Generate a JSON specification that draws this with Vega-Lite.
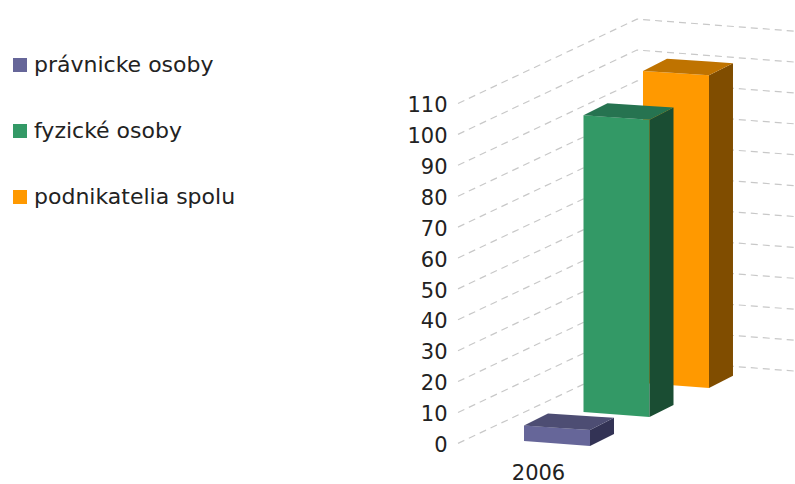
{
  "$schema": "https://vega.github.io/schema/vega-lite/v6.json",
  "width": 345,
  "height": 444,
  "autosize": {"type": "none"},
  "padding": {"left": 450, "top": 0, "right": 0, "bottom": 40},
  "background": "white",
  "view": {"stroke": null},
  "config": {"font": "DejaVu Sans"},
  "datasets": {
    "bars": [
      {"series": "podnikatelia spolu", "year": "2006", "value": 101},
      {"series": "fyzické osoby", "year": "2006", "value": 96},
      {"series": "právnicke osoby", "year": "2006", "value": 5}
    ],
    "levels": [
      {"level": 0}, {"level": 10}, {"level": 20}, {"level": 30}, {"level": 40}, {"level": 50},
      {"level": 60}, {"level": 70}, {"level": 80}, {"level": 90}, {"level": 100}, {"level": 110}
    ]
  },
  "layer": [
    {
      "data": {"name": "levels"},
      "transform": [
        {"calculate": "[2.67,62.33,115]", "as": "px"},
        {"calculate": "[datum.level+0.2,datum.level+27.5,datum.level+23.6]", "as": "py"},
        {"flatten": ["px", "py"]}
      ],
      "mark": {"type": "line", "stroke": "#c8c8c8", "strokeWidth": 1.2, "strokeDash": [7, 5], "clip": false},
      "encoding": {
        "x": {
          "field": "px", "type": "quantitative",
          "scale": {"domain": [0, 115], "nice": false, "zero": false},
          "axis": {
            "title": null, "domain": false, "ticks": false, "grid": false,
            "values": [29.33], "labelExpr": "'2006'", "labelFontSize": 21, "labelColor": "#222222",
            "labelPadding": 18.5, "labelFont": "DejaVu Sans"
          }
        },
        "y": {
          "field": "py", "type": "quantitative",
          "scale": {"domain": [0, 143.69], "nice": false, "zero": false},
          "axis": {
            "title": null, "domain": false, "ticks": false, "grid": false,
            "values": [0, 10, 20, 30, 40, 50, 60, 70, 80, 90, 100, 110],
            "labelFontSize": 21, "labelColor": "#222222", "labelPadding": 3, "labelOffset": 1.5, "labelFont": "DejaVu Sans"
          }
        },
        "detail": {"field": "level", "type": "nominal"}
      }
    },
    {
      "data": {"name": "bars"},
      "transform": [
        {"calculate": "indexof(['právnicke osoby','fyzické osoby','podnikatelia spolu'],datum.series)", "as": "idx"},
        {"calculate": "24.67+19.83*datum.idx", "as": "xl"},
        {"calculate": "0.97+9.39*datum.idx", "as": "b"}
      ],
      "resolve": {"scale": {"color": "independent"}},
      "layer": [
        {
          "transform": [
            {"calculate": "[datum.xl,datum.xl+22]", "as": "px"},
            {"calculate": "[datum.b+datum.value,datum.b+datum.value-1.4]", "as": "pt"},
            {"calculate": "[datum.b,datum.b-1.6]", "as": "pb"},
            {"flatten": ["px", "pt", "pb"]}
          ],
          "mark": {"type": "area", "interpolate": "linear", "opacity": 1},
          "encoding": {
            "x": {"field": "px", "type": "quantitative", "title": null},
            "y": {"field": "pt", "type": "quantitative", "title": null, "stack": null},
            "y2": {"field": "pb"},
            "color": {
              "field": "series", "type": "nominal",
              "scale": {
                "domain": ["právnicke osoby", "fyzické osoby", "podnikatelia spolu"],
                "range": ["#666699", "#339966", "#ff9900"]
              },
              "legend": {
                "title": null, "orient": "none", "legendX": -441, "legendY": 54,
                "symbolType": "square", "symbolSize": 196, "symbolStrokeWidth": 0, "symbolOpacity": 1,
                "labelFontSize": 22, "labelColor": "#222222", "labelFont": "DejaVu Sans",
                "rowPadding": 44, "labelOffset": 3, "labelLimit": 300
              }
            }
          }
        },
        {
          "transform": [
            {"calculate": "[datum.xl+22,datum.xl+30]", "as": "px"},
            {"calculate": "[datum.b+datum.value-1.4,datum.b+datum.value+2.5]", "as": "pt"},
            {"calculate": "[datum.b-1.6,datum.b+2.3]", "as": "pb"},
            {"flatten": ["px", "pt", "pb"]}
          ],
          "mark": {"type": "area", "interpolate": "linear", "opacity": 1},
          "encoding": {
            "x": {"field": "px", "type": "quantitative", "title": null},
            "y": {"field": "pt", "type": "quantitative", "title": null, "stack": null},
            "y2": {"field": "pb"},
            "color": {
              "field": "series", "type": "nominal",
              "scale": {
                "domain": ["právnicke osoby", "fyzické osoby", "podnikatelia spolu"],
                "range": ["#333355", "#1a4d33", "#804d00"]
              },
              "legend": null
            }
          }
        },
        {
          "transform": [
            {"calculate": "[datum.xl,datum.xl+8,datum.xl+22,datum.xl+30]", "as": "px"},
            {"calculate": "[datum.b+datum.value,datum.b+datum.value+3.9,datum.b+datum.value+3.01,datum.b+datum.value+2.5]", "as": "pt"},
            {"calculate": "[datum.b+datum.value,datum.b+datum.value-0.51,datum.b+datum.value-1.4,datum.b+datum.value+2.5]", "as": "pb"},
            {"flatten": ["px", "pt", "pb"]}
          ],
          "mark": {"type": "area", "interpolate": "linear", "opacity": 1},
          "encoding": {
            "x": {"field": "px", "type": "quantitative", "title": null},
            "y": {"field": "pt", "type": "quantitative", "title": null, "stack": null},
            "y2": {"field": "pb"},
            "color": {
              "field": "series", "type": "nominal",
              "scale": {
                "domain": ["právnicke osoby", "fyzické osoby", "podnikatelia spolu"],
                "range": ["#4d4d73", "#267350", "#bf7300"]
              },
              "legend": null
            }
          }
        }
      ]
    }
  ]
}
